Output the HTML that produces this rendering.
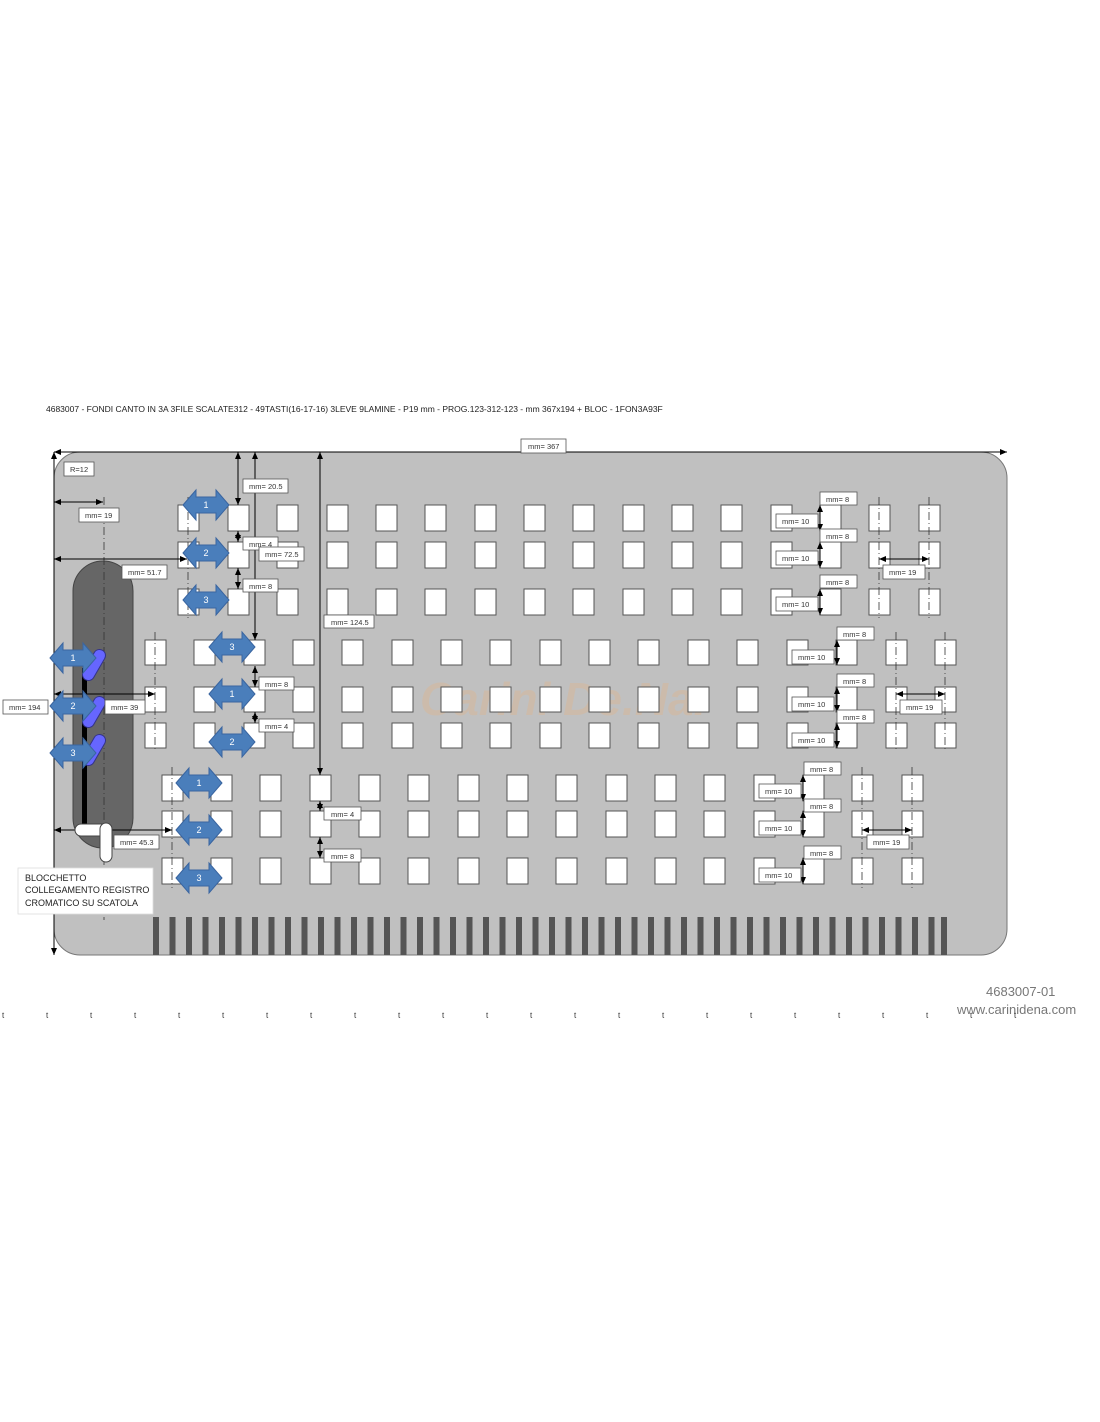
<!DOCTYPE html>
<html><head><meta charset="utf-8"><style>
body{margin:0;background:#fff;width:1100px;height:1422px;overflow:hidden}
svg{display:block}
text{font-family:"Liberation Sans",sans-serif}
</style></head><body>
<svg width="1100" height="1422" viewBox="0 0 1100 1422" xmlns="http://www.w3.org/2000/svg">
<defs>
<marker id="ah" markerWidth="8" markerHeight="8" refX="7" refY="4" orient="auto-start-reverse" markerUnits="userSpaceOnUse"><path d="M0,1 L7,4 L0,7 Z" fill="#000"/></marker>
<path id="dar" d="M-23,0 L-10,-15 L-10,-8 L10,-8 L10,-15 L23,0 L10,15 L10,8 L-10,8 L-10,15 Z" fill="#4a7ebb" stroke="#3a65a0" stroke-width="1"/>
<g id="rowA" fill="#fff" stroke="#555" stroke-width="1">
<rect x="178" y="0" width="21" height="26"/><rect x="228" y="0" width="21" height="26"/><rect x="277" y="0" width="21" height="26"/><rect x="327" y="0" width="21" height="26"/><rect x="376" y="0" width="21" height="26"/><rect x="425" y="0" width="21" height="26"/><rect x="475" y="0" width="21" height="26"/><rect x="524" y="0" width="21" height="26"/><rect x="573" y="0" width="21" height="26"/><rect x="623" y="0" width="21" height="26"/><rect x="672" y="0" width="21" height="26"/><rect x="721" y="0" width="21" height="26"/><rect x="771" y="0" width="21" height="26"/><rect x="820" y="0" width="21" height="26"/><rect x="869" y="0" width="21" height="26"/><rect x="919" y="0" width="21" height="26"/>
</g>
<g id="rowB" fill="#fff" stroke="#555" stroke-width="1">
<rect x="145" y="0" width="21" height="25"/><rect x="194" y="0" width="21" height="25"/><rect x="244" y="0" width="21" height="25"/><rect x="293" y="0" width="21" height="25"/><rect x="342" y="0" width="21" height="25"/><rect x="392" y="0" width="21" height="25"/><rect x="441" y="0" width="21" height="25"/><rect x="490" y="0" width="21" height="25"/><rect x="540" y="0" width="21" height="25"/><rect x="589" y="0" width="21" height="25"/><rect x="638" y="0" width="21" height="25"/><rect x="688" y="0" width="21" height="25"/><rect x="737" y="0" width="21" height="25"/><rect x="787" y="0" width="21" height="25"/><rect x="836" y="0" width="21" height="25"/><rect x="886" y="0" width="21" height="25"/><rect x="935" y="0" width="21" height="25"/>
</g>
<g id="rowC" fill="#fff" stroke="#555" stroke-width="1">
<rect x="162" y="0" width="21" height="26"/><rect x="211" y="0" width="21" height="26"/><rect x="260" y="0" width="21" height="26"/><rect x="310" y="0" width="21" height="26"/><rect x="359" y="0" width="21" height="26"/><rect x="408" y="0" width="21" height="26"/><rect x="458" y="0" width="21" height="26"/><rect x="507" y="0" width="21" height="26"/><rect x="556" y="0" width="21" height="26"/><rect x="606" y="0" width="21" height="26"/><rect x="655" y="0" width="21" height="26"/><rect x="704" y="0" width="21" height="26"/><rect x="754" y="0" width="21" height="26"/><rect x="803" y="0" width="21" height="26"/><rect x="852" y="0" width="21" height="26"/><rect x="902" y="0" width="21" height="26"/>
</g>
</defs>

<text x="46" y="412" font-size="8.5" fill="#222">4683007 - FONDI CANTO IN 3A 3FILE SCALATE312 - 49TASTI(16-17-16) 3LEVE 9LAMINE - P19 mm - PROG.123-312-123 - mm 367x194 + BLOC - 1FON3A93F</text>

<rect x="54" y="452" width="953" height="503" rx="26" fill="#c0c0c0" stroke="#777" stroke-width="1"/>

<g fill="#555">
<rect x="153" y="917" width="6" height="38"/><rect x="169.5" y="917" width="6" height="38"/><rect x="186" y="917" width="6" height="38"/><rect x="202.5" y="917" width="6" height="38"/><rect x="219" y="917" width="6" height="38"/><rect x="235.5" y="917" width="6" height="38"/><rect x="252" y="917" width="6" height="38"/><rect x="268.5" y="917" width="6" height="38"/><rect x="285" y="917" width="6" height="38"/><rect x="301.5" y="917" width="6" height="38"/><rect x="318" y="917" width="6" height="38"/><rect x="334.5" y="917" width="6" height="38"/><rect x="351" y="917" width="6" height="38"/><rect x="367.5" y="917" width="6" height="38"/><rect x="384" y="917" width="6" height="38"/><rect x="400.5" y="917" width="6" height="38"/><rect x="417" y="917" width="6" height="38"/><rect x="433.5" y="917" width="6" height="38"/><rect x="450" y="917" width="6" height="38"/><rect x="466.5" y="917" width="6" height="38"/><rect x="483" y="917" width="6" height="38"/><rect x="499.5" y="917" width="6" height="38"/><rect x="516" y="917" width="6" height="38"/><rect x="532.5" y="917" width="6" height="38"/><rect x="549" y="917" width="6" height="38"/><rect x="565.5" y="917" width="6" height="38"/><rect x="582" y="917" width="6" height="38"/><rect x="598.5" y="917" width="6" height="38"/><rect x="615" y="917" width="6" height="38"/><rect x="631.5" y="917" width="6" height="38"/><rect x="648" y="917" width="6" height="38"/><rect x="664.5" y="917" width="6" height="38"/><rect x="681" y="917" width="6" height="38"/><rect x="697.5" y="917" width="6" height="38"/><rect x="714" y="917" width="6" height="38"/><rect x="730.5" y="917" width="6" height="38"/><rect x="747" y="917" width="6" height="38"/><rect x="763.5" y="917" width="6" height="38"/><rect x="780" y="917" width="6" height="38"/><rect x="796.5" y="917" width="6" height="38"/><rect x="813" y="917" width="6" height="38"/><rect x="829.5" y="917" width="6" height="38"/><rect x="846" y="917" width="6" height="38"/><rect x="862.5" y="917" width="6" height="38"/><rect x="879" y="917" width="6" height="38"/><rect x="895.5" y="917" width="6" height="38"/><rect x="912" y="917" width="6" height="38"/><rect x="928.5" y="917" width="6" height="38"/><rect x="941" y="917" width="6" height="38"/>
</g>

<rect x="73" y="561" width="60" height="287" rx="30" fill="#666" stroke="#444"/>

<text x="420" y="715" font-size="46" font-weight="bold" font-style="italic" fill="#f0b070" opacity="0.25">Carini De.Na.</text>

<use href="#rowA" y="505"/><use href="#rowA" y="542"/><use href="#rowA" y="589"/>
<use href="#rowB" y="640"/><use href="#rowB" y="687"/><use href="#rowB" y="723"/>
<use href="#rowC" y="775"/><use href="#rowC" y="811"/><use href="#rowC" y="858"/>

<g stroke="#333" stroke-width="0.8" stroke-dasharray="8,3,1,3" fill="none">
<line x1="104" y1="497" x2="104" y2="920"/>
<line x1="188" y1="497" x2="188" y2="618"/>
<line x1="155" y1="632" x2="155" y2="752"/>
<line x1="172" y1="767" x2="172" y2="888"/>
<line x1="879" y1="497" x2="879" y2="618"/><line x1="929" y1="497" x2="929" y2="618"/>
<line x1="896" y1="632" x2="896" y2="752"/><line x1="945" y1="632" x2="945" y2="752"/>
<line x1="862" y1="767" x2="862" y2="888"/><line x1="912" y1="767" x2="912" y2="888"/>
</g>

<g stroke="#000" stroke-width="1" fill="none">
<line x1="54" y1="452" x2="1007" y2="452" marker-start="url(#ah)" marker-end="url(#ah)"/>
<line x1="54" y1="452" x2="54" y2="955" marker-start="url(#ah)" marker-end="url(#ah)"/>
<line x1="238" y1="452" x2="238" y2="505" marker-start="url(#ah)" marker-end="url(#ah)"/>
<line x1="255" y1="452" x2="255" y2="640" marker-start="url(#ah)" marker-end="url(#ah)"/>
<line x1="320" y1="452" x2="320" y2="775" marker-start="url(#ah)" marker-end="url(#ah)"/>
<line x1="54" y1="502" x2="103" y2="502" marker-start="url(#ah)" marker-end="url(#ah)"/>
<line x1="54" y1="559" x2="187" y2="559" marker-start="url(#ah)" marker-end="url(#ah)"/>
<line x1="54" y1="694" x2="155" y2="694" marker-start="url(#ah)" marker-end="url(#ah)"/>
<line x1="54" y1="830" x2="172" y2="830" marker-start="url(#ah)" marker-end="url(#ah)"/>
<line x1="238" y1="531" x2="238" y2="542" marker-start="url(#ah)" marker-end="url(#ah)"/>
<line x1="238" y1="568" x2="238" y2="589" marker-start="url(#ah)" marker-end="url(#ah)"/>
<line x1="255" y1="666" x2="255" y2="687" marker-start="url(#ah)" marker-end="url(#ah)"/>
<line x1="255" y1="712" x2="255" y2="723" marker-start="url(#ah)" marker-end="url(#ah)"/>
<line x1="320" y1="801" x2="320" y2="811" marker-start="url(#ah)" marker-end="url(#ah)"/>
<line x1="320" y1="837" x2="320" y2="858" marker-start="url(#ah)" marker-end="url(#ah)"/>
<line x1="820" y1="505" x2="820" y2="531" marker-start="url(#ah)" marker-end="url(#ah)"/>
<line x1="820" y1="542" x2="820" y2="568" marker-start="url(#ah)" marker-end="url(#ah)"/>
<line x1="820" y1="589" x2="820" y2="615" marker-start="url(#ah)" marker-end="url(#ah)"/>
<line x1="837" y1="640" x2="837" y2="665" marker-start="url(#ah)" marker-end="url(#ah)"/>
<line x1="837" y1="687" x2="837" y2="712" marker-start="url(#ah)" marker-end="url(#ah)"/>
<line x1="837" y1="723" x2="837" y2="748" marker-start="url(#ah)" marker-end="url(#ah)"/>
<line x1="803" y1="775" x2="803" y2="801" marker-start="url(#ah)" marker-end="url(#ah)"/>
<line x1="803" y1="811" x2="803" y2="837" marker-start="url(#ah)" marker-end="url(#ah)"/>
<line x1="803" y1="858" x2="803" y2="884" marker-start="url(#ah)" marker-end="url(#ah)"/>
<line x1="879" y1="559" x2="929" y2="559" marker-start="url(#ah)" marker-end="url(#ah)"/>
<line x1="896" y1="694" x2="945" y2="694" marker-start="url(#ah)" marker-end="url(#ah)"/>
<line x1="862" y1="830" x2="912" y2="830" marker-start="url(#ah)" marker-end="url(#ah)"/>
</g>

<rect x="82" y="668" width="5" height="168" fill="#000"/>
<g fill="#6666ff" stroke="#33338a" stroke-width="1">
<rect x="-6" y="-17" width="12" height="34" rx="6" transform="translate(94,665) rotate(30)"/>
<rect x="-6" y="-17" width="12" height="34" rx="6" transform="translate(94,712) rotate(30)"/>
<rect x="-6" y="-17" width="12" height="34" rx="6" transform="translate(94,750) rotate(30)"/>
</g>
<rect x="75" y="824" width="36" height="12" rx="6" fill="#fff" stroke="#444"/>
<rect x="100" y="823" width="12" height="39" rx="6" fill="#fff" stroke="#444"/>

<g font-size="9" fill="#fff" text-anchor="middle">
<use href="#dar" x="206" y="505"/><text x="206" y="508">1</text>
<use href="#dar" x="206" y="553"/><text x="206" y="556">2</text>
<use href="#dar" x="206" y="600"/><text x="206" y="603">3</text>
<use href="#dar" x="232" y="647"/><text x="232" y="650">3</text>
<use href="#dar" x="232" y="694"/><text x="232" y="697">1</text>
<use href="#dar" x="232" y="742"/><text x="232" y="745">2</text>
<use href="#dar" x="199" y="783"/><text x="199" y="786">1</text>
<use href="#dar" x="199" y="830"/><text x="199" y="833">2</text>
<use href="#dar" x="199" y="878"/><text x="199" y="881">3</text>
<use href="#dar" x="73" y="658"/><text x="73" y="661">1</text>
<use href="#dar" x="73" y="706"/><text x="73" y="709">2</text>
<use href="#dar" x="73" y="753"/><text x="73" y="756">3</text>
</g>

<g font-size="7.5" fill="#333">
<g fill="#fff" stroke="#555" stroke-width="0.8">
<rect x="521" y="439" width="45" height="14"/><rect x="64" y="462" width="30" height="14"/>
<rect x="243" y="479" width="45" height="14"/><rect x="79" y="508" width="40" height="14"/>
<rect x="243" y="537" width="35" height="13"/><rect x="259" y="547" width="45" height="14"/>
<rect x="122" y="565" width="45" height="14"/><rect x="243" y="579" width="35" height="13"/>
<rect x="324" y="615" width="50" height="13"/><rect x="259" y="677" width="35" height="13"/>
<rect x="3" y="700" width="45" height="14"/><rect x="105" y="700" width="40" height="14"/>
<rect x="259" y="719" width="35" height="13"/><rect x="324" y="807" width="37" height="13"/>
<rect x="114" y="835" width="45" height="14"/><rect x="324" y="849" width="37" height="13"/>
<rect x="820" y="492" width="37" height="13"/><rect x="776" y="514" width="42" height="14"/>
<rect x="820" y="529" width="37" height="13"/><rect x="776" y="551" width="42" height="14"/>
<rect x="820" y="575" width="37" height="13"/><rect x="776" y="597" width="42" height="14"/>
<rect x="883" y="565" width="42" height="14"/>
<rect x="837" y="627" width="37" height="13"/><rect x="792" y="650" width="42" height="14"/>
<rect x="837" y="674" width="37" height="13"/><rect x="792" y="697" width="42" height="14"/>
<rect x="837" y="710" width="37" height="13"/><rect x="792" y="733" width="42" height="14"/>
<rect x="900" y="700" width="42" height="14"/>
<rect x="804" y="762" width="37" height="13"/><rect x="759" y="784" width="42" height="14"/>
<rect x="804" y="799" width="37" height="13"/><rect x="759" y="821" width="42" height="14"/>
<rect x="804" y="846" width="37" height="13"/><rect x="759" y="868" width="42" height="14"/>
<rect x="867" y="835" width="42" height="14"/>
<rect x="18" y="868" width="135" height="46" stroke="#ddd"/>
</g>
<text x="528" y="449">mm= 367</text><text x="70" y="472">R=12</text>
<text x="249" y="489">mm= 20.5</text><text x="85" y="518">mm= 19</text>
<text x="249" y="547">mm= 4</text><text x="265" y="557">mm= 72.5</text>
<text x="128" y="575">mm= 51.7</text><text x="249" y="589">mm= 8</text>
<text x="331" y="625">mm= 124.5</text><text x="265" y="687">mm= 8</text>
<text x="9" y="710">mm= 194</text><text x="111" y="710">mm= 39</text>
<text x="265" y="729">mm= 4</text><text x="331" y="817">mm= 4</text>
<text x="120" y="845">mm= 45.3</text><text x="331" y="859">mm= 8</text>
<text x="826" y="502">mm= 8</text><text x="782" y="524">mm= 10</text>
<text x="826" y="539">mm= 8</text><text x="782" y="561">mm= 10</text>
<text x="826" y="585">mm= 8</text><text x="782" y="607">mm= 10</text>
<text x="889" y="575">mm= 19</text>
<text x="843" y="637">mm= 8</text><text x="798" y="660">mm= 10</text>
<text x="843" y="684">mm= 8</text><text x="798" y="707">mm= 10</text>
<text x="843" y="720">mm= 8</text><text x="798" y="743">mm= 10</text>
<text x="906" y="710">mm= 19</text>
<text x="810" y="772">mm= 8</text><text x="765" y="794">mm= 10</text>
<text x="810" y="809">mm= 8</text><text x="765" y="831">mm= 10</text>
<text x="810" y="856">mm= 8</text><text x="765" y="878">mm= 10</text>
<text x="873" y="845">mm= 19</text>
</g>
<g font-size="9" fill="#222">
<text x="25" y="881">BLOCCHETTO</text>
<text x="25" y="893">COLLEGAMENTO REGISTRO</text>
<text x="25" y="906">CROMATICO SU SCATOLA</text>
</g>

<text x="986" y="996" font-size="13" fill="#777">4683007-01</text>
<text x="957" y="1014" font-size="13" fill="#777">www.carinidena.com</text>
<g font-size="8" fill="#333">
<text x="2" y="1018">t</text><text x="46" y="1018">t</text><text x="90" y="1018">t</text><text x="134" y="1018">t</text><text x="178" y="1018">t</text><text x="222" y="1018">t</text><text x="266" y="1018">t</text><text x="310" y="1018">t</text><text x="354" y="1018">t</text><text x="398" y="1018">t</text><text x="442" y="1018">t</text><text x="486" y="1018">t</text><text x="530" y="1018">t</text><text x="574" y="1018">t</text><text x="618" y="1018">t</text><text x="662" y="1018">t</text><text x="706" y="1018">t</text><text x="750" y="1018">t</text><text x="794" y="1018">t</text><text x="838" y="1018">t</text><text x="882" y="1018">t</text><text x="926" y="1018">t</text><text x="970" y="1018">t</text><text x="1014" y="1018">t</text>
</g>
</svg>
</body></html>
